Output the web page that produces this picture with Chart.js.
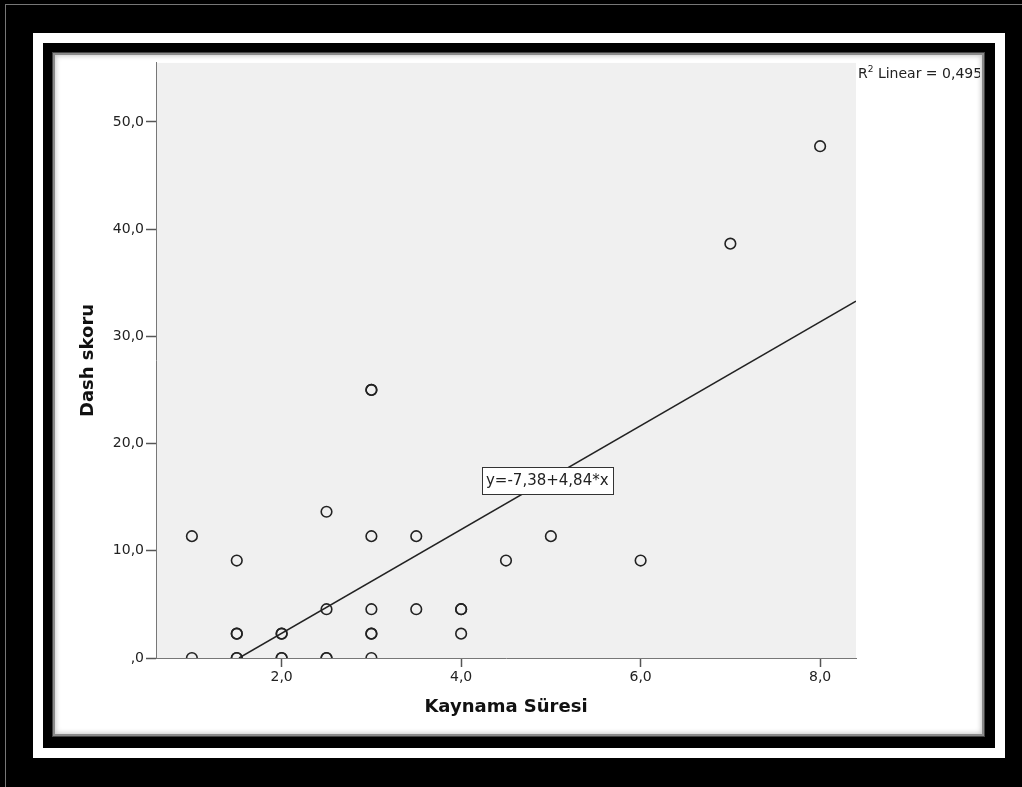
<!DOCTYPE html>
<html>
<head>
<meta charset="utf-8">
<script src="https://cdn.jsdelivr.net/npm/chart.js@4"></script>
<style>
  body { margin: 0; background: #000; width: 1022px; height: 787px; position: relative; overflow: hidden; }
  .edge { position: absolute; left: 5px; top: 4px; right: 0; bottom: 0; border-top: 1px solid #777; border-left: 1px solid #777; }
  .mat { position: absolute; left: 33px; top: 33px; width: 972px; height: 725px; background: #fff; }
  .inner { position: absolute; left: 43px; top: 43px; width: 952px; height: 705px; background: #000; }
  .bevel { position: absolute; left: 52px; top: 52px; width: 931px; height: 683px; background: #fff;
    border: 1px solid #444; box-shadow: inset 0 0 0 2px #8a8a8a, inset 0 0 5px 3px #c8c8c8; }
  .wrap { position: absolute; left: 57px; top: 56px; width: 923px; height: 676px; }
</style>
</head>
<body>
<div class="edge"></div>
<div class="mat"></div>
<div class="inner"></div>
<div class="bevel"></div>
<div class="wrap"><canvas id="chart" width="923" height="676"></canvas></div>
<script>
// Kaynama Süresi vs Dash skoru (duplicates kept, they show as bolder rings)
const kaynamaSuresi = [1.0, 1.0, 1.5, 1.5, 1.5, 1.5, 1.5, 2.0, 2.0, 2.0, 2.0, 2.5, 2.5, 2.5, 2.5,
  3.0, 3.0, 3.0, 3.0, 3.0, 3.0, 3.0, 3.5, 3.5, 4.0, 4.0, 4.0, 4.5, 5.0, 6.0, 7.0, 8.0];
const dashSkoru = [11.36, 0, 9.09, 2.27, 2.27, 0, 0, 2.27, 2.27, 0, 0, 13.64, 4.55, 0, 0,
  25.0, 25.0, 11.36, 4.55, 2.27, 2.27, 0, 11.36, 4.55, 4.55, 4.55, 2.27, 9.09, 11.36, 9.09, 38.64, 47.73];

// fit line end points (y = -7,38 + 4,84*x)
const fitX = [1.525, 8.4];
const fitY = [0, 33.28];

const xTicks = [2, 4, 6, 8];
const xTickLabels = ['2,0', '4,0', '6,0', '8,0'];
const yTicks = [0, 10, 20, 30, 40, 50];
const yTickLabels = [',0', '10,0', '20,0', '30,0', '40,0', '50,0'];

const fitLabel = 'y=-7,38+4,84*x';
const fitLabelAt = { x: 4.96, y: 16.6 };

Chart.defaults.font.family = 'DejaVu Sans';
Chart.defaults.color = '#222';

const points = kaynamaSuresi.map((x, i) => ({ x: x, y: dashSkoru[i] }));
const fitPoints = fitX.map((x, i) => ({ x: x, y: fitY[i] }));

const plotBackground = {
  id: 'plotBackground',
  beforeDraw(chart) {
    const a = chart.chartArea;
    const ctx = chart.ctx;
    ctx.save();
    ctx.fillStyle = '#f0f0f0';
    ctx.fillRect(a.left, a.top, a.right - a.left, a.bottom - a.top);
    ctx.restore();
  }
};

const notes = {
  id: 'notes',
  afterDraw(chart) {
    const ctx = chart.ctx;
    const a = chart.chartArea;
    const xs = chart.scales.x, ys = chart.scales.y;
    ctx.save();

    // equation box
    ctx.font = '15px "DejaVu Sans"';
    const w = ctx.measureText(fitLabel).width + 8;
    const h = 27;
    const cx = xs.getPixelForValue(fitLabelAt.x);
    const cy = ys.getPixelForValue(fitLabelAt.y);
    ctx.fillStyle = '#fff';
    ctx.fillRect(Math.round(cx - w / 2) + 0.5, Math.round(cy - h / 2) + 0.5, Math.round(w), h);
    ctx.strokeStyle = '#333';
    ctx.lineWidth = 1;
    ctx.strokeRect(Math.round(cx - w / 2) + 0.5, Math.round(cy - h / 2) + 0.5, Math.round(w), h);
    ctx.fillStyle = '#222';
    ctx.textBaseline = 'middle';
    ctx.textAlign = 'center';
    ctx.fillText(fitLabel, cx, cy + 1);

    // R2 note
    ctx.textAlign = 'left';
    ctx.textBaseline = 'alphabetic';
    let x = a.right + 2;
    const y = a.top + 15;
    ctx.font = '14px "DejaVu Sans"';
    ctx.fillText('R', x, y);
    x += ctx.measureText('R').width;
    ctx.font = '9px "DejaVu Sans"';
    ctx.fillText('2', x, y - 6);
    x += ctx.measureText('2').width;
    ctx.font = '14px "DejaVu Sans"';
    ctx.fillText(' Linear = 0,495', x, y);
    ctx.restore();
  }
};

new Chart(document.getElementById('chart'), {
  type: 'scatter',
  data: {
    datasets: [{
      data: points,
      pointStyle: 'circle',
      pointRadius: 5.3,
      pointBorderWidth: 1.6,
      borderColor: '#222',
      backgroundColor: 'rgba(0,0,0,0)',
      clip: 0
    }, {
      type: 'line',
      data: fitPoints,
      borderColor: '#222',
      borderWidth: 1.5,
      pointRadius: 0,
      fill: false,
      clip: 0
    }]
  },
  options: {
    responsive: false,
    animation: false,
    devicePixelRatio: 1,
    layout: { padding: { left: 0, top: 6, right: 124, bottom: 0 } },
    plugins: {
      legend: { display: false },
      tooltip: { enabled: false }
    },
    scales: {
      x: {
        type: 'linear',
        min: 0.6,
        max: 8.4,
        afterBuildTicks: (scale) => { scale.ticks = xTicks.map(v => ({ value: v })); },
        afterFit: (scale) => { scale.height = 74; scale.paddingLeft = 0; scale.paddingRight = 0; },
        ticks: {
          callback: (v) => xTickLabels[xTicks.indexOf(v)],
          font: { size: 14 },
          color: '#222',
          padding: 2,
          maxRotation: 0
        },
        grid: { drawOnChartArea: false, drawTicks: true, tickLength: 9, color: '#555', tickWidth: 1.5 },
        border: { color: '#777', width: 1 },
        title: {
          display: true,
          text: 'Kaynama Süresi',
          font: { size: 18, weight: 'bold' },
          color: '#111',
          padding: { top: 0, bottom: 14 }
        }
      },
      y: {
        type: 'linear',
        min: 0,
        max: 55.5,
        afterBuildTicks: (scale) => { scale.ticks = yTicks.map(v => ({ value: v })); },
        afterFit: (scale) => { scale.width = 99; scale.paddingTop = 0; scale.paddingBottom = 0; },
        ticks: {
          callback: (v) => yTickLabels[yTicks.indexOf(v)],
          font: { size: 14 },
          color: '#222',
          padding: 2
        },
        grid: { drawOnChartArea: false, drawTicks: true, tickLength: 10, color: '#555', tickWidth: 1.5 },
        border: { color: '#777', width: 1 },
        title: {
          display: true,
          text: 'Dash skoru',
          font: { size: 18, weight: 'bold' },
          color: '#111',
          padding: { top: 21, bottom: 0 }
        }
      }
    }
  },
  plugins: [plotBackground, notes]
});
</script>
</body>
</html>
